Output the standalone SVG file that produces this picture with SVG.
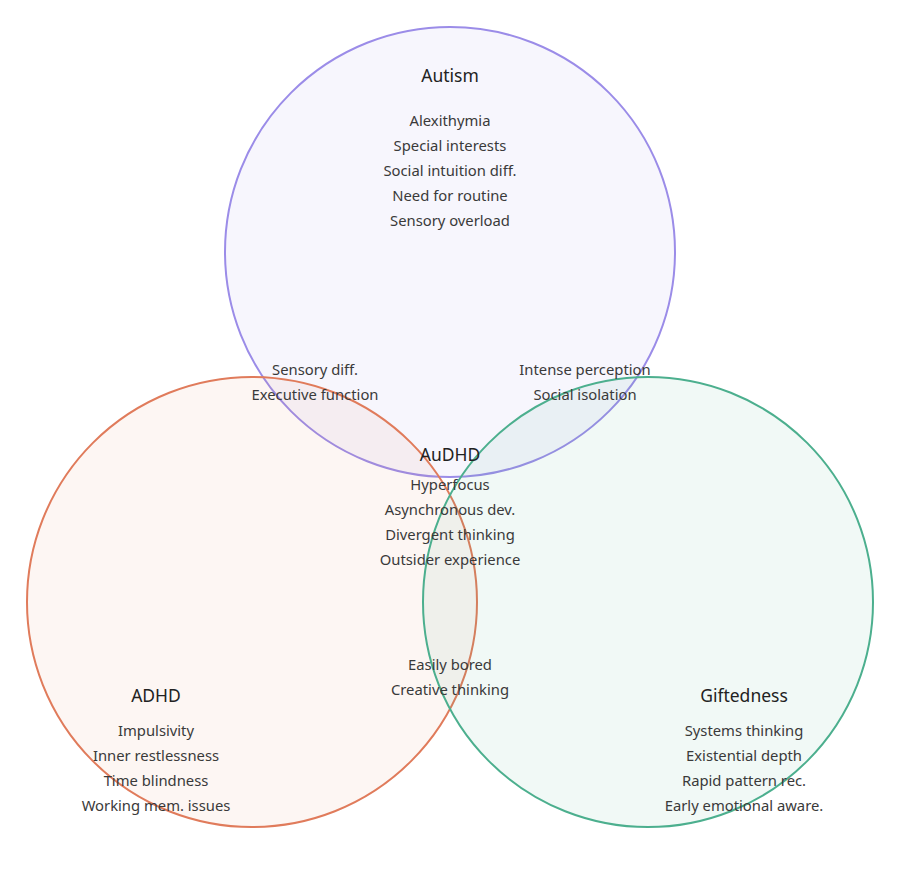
<svg xmlns="http://www.w3.org/2000/svg" width="900" height="874" viewBox="0 0 900 874">
<style>
.c{stroke-width:2}
.t{font-family:"Noto Sans","Open Sans",sans-serif;font-size:17.5px;fill:#222;text-anchor:middle}
.i{font-family:"Noto Sans","Open Sans",sans-serif;font-size:14.8px;fill:#3a3a3a;text-anchor:middle}
</style>
<rect width="900" height="874" fill="#ffffff"/>
<g id="connectors"></g>
<g id="circles">
<circle id="autism-circle" class="c" cx="450" cy="252" r="225" fill="#9b8ce8" fill-opacity="0.08" stroke="#9b8ce8"/>
<circle id="adhd-circle" class="c" cx="252" cy="602" r="225" fill="#e07b5b" fill-opacity="0.07" stroke="#e07b5b"/>
<circle id="gifted-circle" class="c" cx="648" cy="602" r="225" fill="#4caf8e" fill-opacity="0.08" stroke="#4caf8e"/>
</g>
<g id="autism">
<text class="t" x="450" y="82">Autism</text>
<text class="i" x="450" y="126">Alexithymia</text>
<text class="i" x="450" y="151">Special interests</text>
<text class="i" x="450" y="176">Social intuition diff.</text>
<text class="i" x="450" y="201">Need for routine</text>
<text class="i" x="450" y="226">Sensory overload</text>
</g>
<g id="autism-adhd">
<text class="i" x="315" y="375">Sensory diff.</text>
<text class="i" x="315" y="400">Executive function</text>
</g>
<g id="autism-gifted">
<text class="i" x="585" y="375">Intense perception</text>
<text class="i" x="585" y="400">Social isolation</text>
</g>
<g id="audhd">
<text class="t" x="450" y="461">AuDHD</text>
<text class="i" x="450" y="490">Hyperfocus</text>
<text class="i" x="450" y="515">Asynchronous dev.</text>
<text class="i" x="450" y="540">Divergent thinking</text>
<text class="i" x="450" y="565">Outsider experience</text>
</g>
<g id="adhd-gifted">
<text class="i" x="450" y="670">Easily bored</text>
<text class="i" x="450" y="695">Creative thinking</text>
</g>
<g id="adhd">
<text class="t" x="156" y="702">ADHD</text>
<text class="i" x="156" y="736">Impulsivity</text>
<text class="i" x="156" y="761">Inner restlessness</text>
<text class="i" x="156" y="786">Time blindness</text>
<text class="i" x="156" y="811">Working mem. issues</text>
</g>
<g id="giftedness">
<text class="t" x="744" y="702">Giftedness</text>
<text class="i" x="744" y="736">Systems thinking</text>
<text class="i" x="744" y="761">Existential depth</text>
<text class="i" x="744" y="786">Rapid pattern rec.</text>
<text class="i" x="744" y="811">Early emotional aware.</text>
</g>
</svg>
